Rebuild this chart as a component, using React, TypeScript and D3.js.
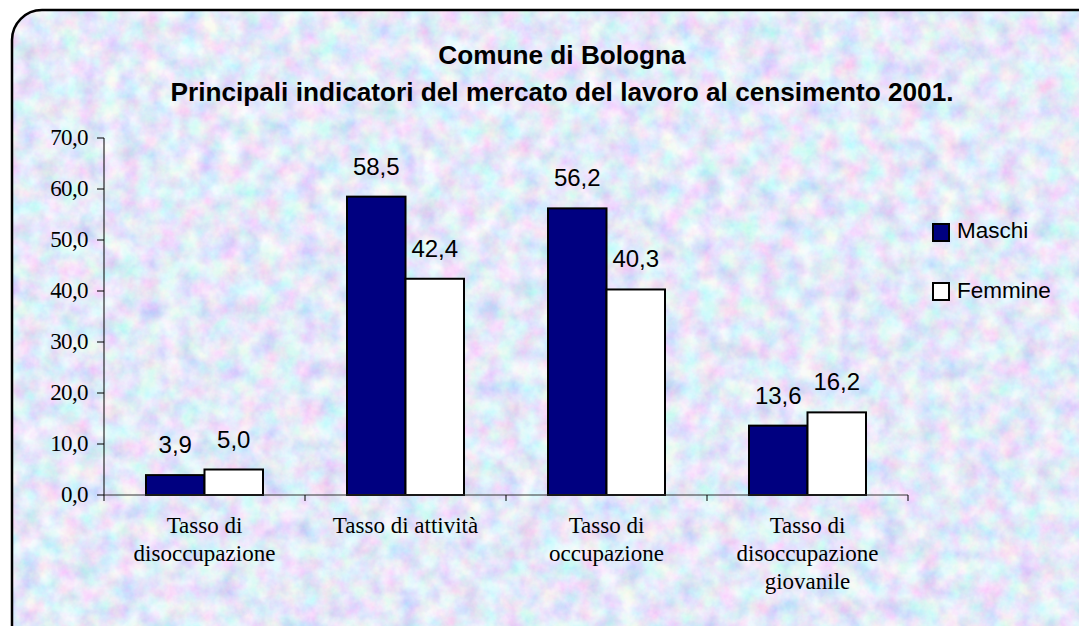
import React from "react";
import * as d3 from "d3";

const categories: string[][] = [
  ["Tasso di", "disoccupazione"],
  ["Tasso di attività"],
  ["Tasso di", "occupazione"],
  ["Tasso di", "disoccupazione", "giovanile"],
];
const seriesNames = ["Maschi", "Femmine"];
const maschi = [3.9, 58.5, 56.2, 13.6];
const femmine = [5.0, 42.4, 40.3, 16.2];
const yTicks = [0, 10, 20, 30, 40, 50, 60, 70];
const titleLines = [
  "Comune di Bologna",
  "Principali indicatori del mercato del lavoro al censimento 2001.",
];

const W = 1079;
const H = 626;
const colors = ["#000080", "#ffffff"];
const fmt = (v: number) => v.toFixed(1).replace(".", ",");

export default function App() {
  const left = 104, right = 908, top = 138, bottom = 495;
  const x = d3.scaleBand<number>().domain(d3.range(categories.length)).range([left, right]).paddingInner(0).paddingOuter(0);
  const xs = d3.scaleBand<number>().domain([0, 1]).range([0, x.bandwidth()]).paddingInner(0).paddingOuter(0.718);
  const y = d3.scaleLinear().domain([0, 70]).range([bottom, top]);
  const series = [maschi, femmine];
  const sans = "'Liberation Sans', Arial, sans-serif";
  const serif = "'Liberation Serif', 'Times New Roman', serif";

  return (
    <svg width={W} height={H} style={{ position: "absolute", left: 0, top: 0 }}>
      <defs>
        <filter id="tex" x="0" y="0" width="100%" height="100%">
          <feTurbulence type="fractalNoise" baseFrequency="0.05" numOctaves={4} seed={7} />
          <feColorMatrix
            type="matrix"
            values="0.8 0 0 0 0.4  0 0.7 0 0 0.49  0 0 0.3 0 0.8  0 0 0 0 1"
          />
        </filter>
        <clipPath id="clip">
          <rect x={12} y={10} width={1100} height={660} rx={30} ry={30} />
        </clipPath>
      </defs>
      <rect x={0} y={0} width={W} height={H} fill="#fff" />
      <g clipPath="url(#clip)">
        <rect x={12} y={10} width={1100} height={660} fill="#c8d3f2" />
        <rect x={12} y={10} width={1100} height={660} filter="url(#tex)" opacity={0.9} />
      </g>
      <rect x={12} y={10} width={1100} height={660} rx={30} ry={30} fill="none" stroke="#000" strokeWidth={2.5} />

      {/* title */}
      {titleLines.map((t, i) => (
        <text key={i} x={562} y={64 + i * 37} textAnchor="middle" fontFamily={sans} fontWeight="bold" fontSize={26.2} fill="#000">
          {t}
        </text>
      ))}

      {/* y axis */}
      <line x1={left} x2={left} y1={top} y2={bottom} stroke="#000" strokeWidth={1} />
      {yTicks.map((t) => (
        <g key={t}>
          <line x1={left - 7} x2={left} y1={y(t)} y2={y(t)} stroke="#000" />
          <text x={88} y={y(t) + 7} textAnchor="end" fontFamily={serif} fontSize={23} letterSpacing={-0.6} fill="#000">
            {fmt(t)}
          </text>
        </g>
      ))}

      {/* bars */}
      {categories.map((c, i) =>
        series.map((s, j) => {
          const bx = (x(i) as number) + (xs(j) as number);
          const bw = xs.bandwidth();
          return (
            <g key={`${i}-${j}`}>
              <rect x={bx} y={y(s[i])} width={bw} height={bottom - y(s[i])} fill={colors[j]} stroke="#000" strokeWidth={2} />
              <text x={bx + bw / 2} y={y(s[i]) - 22} textAnchor="middle" fontFamily={sans} fontSize={24} fill="#000">
                {fmt(s[i])}
              </text>
            </g>
          );
        })
      )}

      {/* x axis */}
      <line x1={left} x2={right} y1={bottom} y2={bottom} stroke="#333" strokeWidth={1} />
      {d3.range(categories.length + 1).map((i) => {
        const tx = left + i * x.step();
        return <line key={i} x1={tx} x2={tx} y1={bottom} y2={bottom + 6} stroke="#000" />;
      })}
      {categories.map((c, i) => (
        <text key={i} textAnchor="middle" fontFamily={serif} fontSize={23} fill="#000">
          {c.map((line, k) => (
            <tspan key={k} x={(x(i) as number) + x.bandwidth() / 2} y={533 + k * 28}>
              {line}
            </tspan>
          ))}
        </text>
      ))}

      {/* legend */}
      {seriesNames.map((n, j) => (
        <g key={n}>
          <rect x={933} y={224 + j * 59} width={16} height={17} fill={colors[j]} stroke="#000" strokeWidth={2} />
          <text x={957} y={238 + j * 60} fontFamily={sans} fontSize={22.5} fill="#000">
            {n}
          </text>
        </g>
      ))}
    </svg>
  );
}
